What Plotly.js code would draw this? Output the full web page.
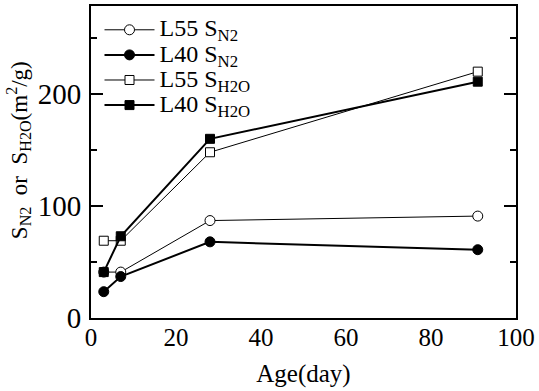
<!DOCTYPE html>
<html><head><meta charset="utf-8">
<script src="https://cdn.plot.ly/plotly-3.0.1.min.js"></script>
<style>body{margin:0;background:#fff}#c{width:539px;height:391px}</style>
</head><body><div id="c"></div>
<script>
const ages = [3, 7, 28, 91];
const L55_SN2 = [41, 41, 87, 91];
const L40_SN2 = [23.5, 37, 68, 61];
const L55_SH2O = [69, 69, 148, 220];
const L40_SH2O = [41, 73, 160, 211];
const names = ['L55 S<sub>N2</sub>', 'L40 S<sub>N2</sub>', 'L55 S<sub>H2O</sub>', 'L40 S<sub>H2O</sub>'];
const xTitle = 'Age(day)';
const yTitle = 'S<sub>N2</sub>  or  S<sub>H2O</sub>(m<sup>2</sup>/g)';

const F = 'Liberation Serif, Times New Roman, serif';
function big(s){ return '<span style="font-size:24px">' + s + '</span>'; }
function tr(y, name, sym, filled, lw){
  return {x: ages, y: y, name: big(name), mode: 'lines+markers', type: 'scatter',
    line: {color: 'black', width: lw},
    marker: {symbol: sym, size: sym === 'square' ? 9 : 10, color: filled ? 'black' : 'white', line: {color: 'black', width: 1}}};
}
const data = [
  tr(L55_SN2, names[0], 'circle', false, 1),
  tr(L40_SN2, names[1], 'circle', true, 2),
  tr(L55_SH2O, names[2], 'square', false, 1),
  tr(L40_SH2O, names[3], 'square', true, 2)
];
const layout = {
  width: 539, height: 391,
  margin: {l: 91, r: 23, t: 6, b: 73},
  paper_bgcolor: 'white', plot_bgcolor: 'white',
  font: {family: F, size: 24, color: 'black'},
  showlegend: true,
  legend: {x: 0.02, y: 0.98, xanchor: 'left', yanchor: 'top', bgcolor: 'rgba(0,0,0,0)', font: {family: F, size: 17}, itemwidth: 50, tracegroupgap: 0},
  xaxis: {range: [0, 100], dtick: 20, showgrid: false, zeroline: false, showline: true, linecolor: 'black', linewidth: 2, mirror: true, ticks: '',
    tickfont: {family: F, size: 25}, ticklabelstandoff: -4, title: {text: xTitle, font: {family: F, size: 25}, standoff: 14}},
  yaxis: {range: [0, 278.6], tickvals: [0, 100, 200], showgrid: false, zeroline: false, showline: true, linecolor: 'black', linewidth: 2, mirror: 'ticks',
    ticks: 'inside', ticklen: 12, tickwidth: 2, tickcolor: 'black',
    minor: {tickvals: [50, 150, 250], ticks: 'inside', ticklen: 6, tickwidth: 2, tickcolor: 'black', showgrid: false},
    tickfont: {family: F, size: 29}, ticklabelstandoff: 2},
  annotations: [{text: yTitle, xref: 'paper', yref: 'paper', x: 0, y: 0.538, xshift: -73, xanchor: 'center', yanchor: 'middle',
    textangle: -90, showarrow: false, font: {family: F, size: 23, color: 'black'}}]
};
Plotly.newPlot('c', data, layout, {displayModeBar: false, staticPlot: true});
</script></body></html>
